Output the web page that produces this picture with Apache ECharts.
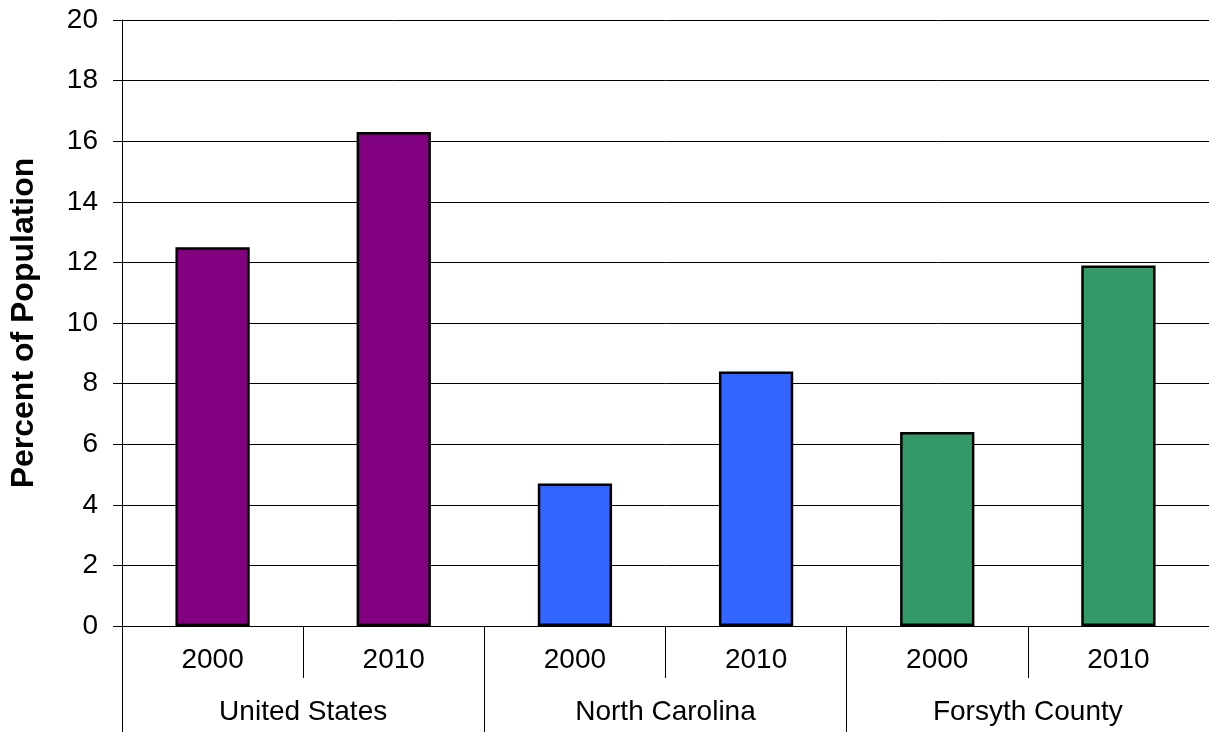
<!DOCTYPE html>
<html>
<head>
<meta charset="utf-8">
<title>Percent of Population</title>
<script src="https://cdn.jsdelivr.net/npm/echarts@6/dist/echarts.min.js"></script>
<style>
  html, body { margin: 0; padding: 0; background: #fff; }
  #chart { width: 1209px; height: 732px; }
</style>
</head>
<body>
<div id="chart"></div>
<script>
// Values per place and census year
const years = ['2000', '2010', '2000', '2010', '2000', '2010'];
const places = ['United States', 'North Carolina', 'Forsyth County'];
const values = [12.5, 16.3, 4.7, 8.4, 6.4, 11.9];
const yTicks = { min: 0, max: 20, interval: 2 };

// One fill per place, two bars each
const placeColors = ['#800080', '#3366FF', '#339966'];

const FONT = '"Liberation Sans", Arial, sans-serif';

const chart = echarts.init(document.getElementById('chart'), null, { renderer: 'canvas' });

chart.setOption({
  animation: false,
  backgroundColor: '#ffffff',
  grid: { left: 122, top: 20, width: 1091, height: 606, containLabel: false },
  xAxis: [
    {
      type: 'category',
      data: years,
      position: 'bottom',
      boundaryGap: true,
      axisLine: { show: true, lineStyle: { color: '#000', width: 1 } },
      axisTick: { show: true, length: 52, lineStyle: { color: '#000', width: 1 } },
      axisLabel: { color: '#000', fontSize: 28, fontFamily: FONT, margin: 20 },
      splitLine: { show: false }
    },
    {
      type: 'category',
      data: places,
      position: 'bottom',
      boundaryGap: true,
      axisLine: { show: false },
      axisTick: { show: true, length: 120, lineStyle: { color: '#000', width: 1 } },
      axisLabel: { color: '#000', fontSize: 28, fontFamily: FONT, margin: 72 },
      splitLine: { show: false }
    }
  ],
  yAxis: {
    type: 'value',
    min: yTicks.min,
    max: yTicks.max,
    interval: yTicks.interval,
    name: 'Percent of Population',
    nameLocation: 'middle',
    nameGap: 82,
    nameTextStyle: { color: '#000', fontSize: 32, fontWeight: 'bold', fontFamily: FONT },
    axisLine: { show: true, lineStyle: { color: '#000', width: 1 } },
    axisTick: { show: true, length: 9, lineStyle: { color: '#000', width: 1 } },
    axisLabel: { color: '#000', fontSize: 28, fontFamily: FONT, margin: 24 },
    splitLine: { show: true, lineStyle: { color: '#000', width: 1 } }
  },
  series: [
    {
      type: 'bar',
      xAxisIndex: 0,
      barWidth: '41%',
      data: values.map((v, i) => ({
        value: v,
        itemStyle: {
          color: placeColors[Math.floor(i / 2)],
          borderColor: '#000',
          borderWidth: 2.5
        }
      }))
    }
  ]
});
</script>
</body>
</html>
